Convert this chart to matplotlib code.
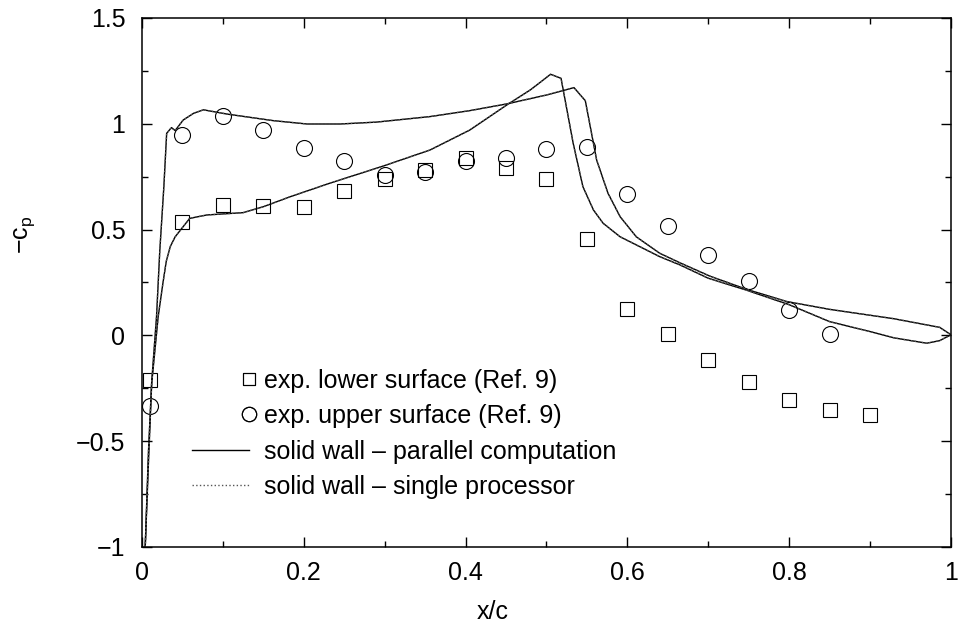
import numpy as np
import matplotlib
matplotlib.use('Agg')
import matplotlib.pyplot as plt
from matplotlib.ticker import MultipleLocator, FuncFormatter
from matplotlib.legend_handler import HandlerLine2D

plt.rcParams['font.family'] = ['Liberation Sans', 'DejaVu Sans']
plt.rcParams['mathtext.fontset'] = 'custom'
plt.rcParams['mathtext.rm'] = 'Liberation Sans'
plt.rcParams['mathtext.it'] = 'Liberation Sans'

# experimental data (Ref. 9)
x_lower = [0.01, 0.05, 0.1, 0.15, 0.2, 0.25, 0.3, 0.35, 0.4, 0.45, 0.5, 0.55,
           0.6, 0.65, 0.7, 0.75, 0.8, 0.85, 0.9]
cp_lower = [-0.211, 0.536, 0.616, 0.612, 0.608, 0.681, 0.739, 0.78, 0.837, 0.793,
            0.739, 0.457, 0.123, 0.007, -0.116, -0.22, -0.305, -0.355, -0.375]
x_upper = [0.01, 0.05, 0.1, 0.15, 0.2, 0.25, 0.3, 0.35, 0.4, 0.45, 0.5, 0.55,
           0.6, 0.65, 0.7, 0.75, 0.8, 0.85]
cp_upper = [-0.332, 0.947, 1.035, 0.969, 0.884, 0.823, 0.76, 0.774, 0.823, 0.84,
            0.882, 0.892, 0.667, 0.517, 0.38, 0.257, 0.119, 0.007]

# computed curve with shock near x/c = 0.55
xa = [0.004, 0.008, 0.012, 0.018, 0.022, 0.027, 0.0305, 0.0365, 0.041, 0.051, 0.064,
      0.076, 0.105, 0.162, 0.204, 0.245, 0.29, 0.356, 0.405, 0.451, 0.5, 0.534, 0.548,
      0.562, 0.576, 0.591, 0.611, 0.64, 0.665, 0.702, 0.747, 0.797, 0.85, 0.929, 0.986, 1.0]
ya = [-1.0, -0.55, -0.22, 0.09, 0.40, 0.70, 0.955, 0.982, 0.968, 1.018, 1.05,
      1.066, 1.046, 1.015, 0.999, 0.999, 1.008, 1.034, 1.062, 1.094, 1.136, 1.171, 1.109,
      0.829, 0.672, 0.561, 0.466, 0.388, 0.343, 0.28, 0.218, 0.16, 0.123, 0.079, 0.038, 0.003]

# computed curve with shock near x/c = 0.51
xb = [0.004, 0.008, 0.012, 0.02, 0.026, 0.030, 0.035, 0.041, 0.059, 0.08,
      0.1, 0.125, 0.15, 0.183, 0.232, 0.298, 0.356, 0.405, 0.451, 0.48, 0.496,
      0.505, 0.518, 0.533, 0.545, 0.558, 0.570, 0.591, 0.64, 0.665, 0.70, 0.747,
      0.80, 0.85, 0.90, 0.93, 0.97, 0.986, 1.0]
yb = [-1.0, -0.6, -0.227, 0.088, 0.25, 0.35, 0.42, 0.466, 0.553, 0.569,
      0.574, 0.58, 0.608, 0.655, 0.719, 0.80, 0.876, 0.97, 1.089, 1.16, 1.207,
      1.234, 1.215, 0.908, 0.703, 0.593, 0.530, 0.466, 0.372, 0.333, 0.27, 0.214,
      0.145, 0.065, 0.018, -0.012, -0.037, -0.025, 0.003]


class RightMarker(HandlerLine2D):
    # put the legend symbol at the right end of the handle, like xmgrace
    def get_xdata(self, legend, xdescent, ydescent, width, height, fontsize):
        xm = np.array([-xdescent + width, -xdescent + width])
        return xm, xm


fig = plt.figure(figsize=(9.6, 6.29), dpi=100)
ax = fig.add_axes([0.1479, 0.1304, 0.8427, 0.8410])

sq, = ax.plot(x_lower, cp_lower, 's', ms=9.4, mfc='none', mec='black', mew=0.8,
              label='exp. lower surface (Ref. 9)')
ci, = ax.plot(x_upper, cp_upper, 'o', ms=11.5, mfc='none', mec='black', mew=0.8,
              label='exp. upper surface (Ref. 9)')
l1, = ax.plot(xa, ya, '-', color='black', lw=1.0,
              label='solid wall \u2013 parallel computation')
ax.plot(xb, yb, '-', color='black', lw=1.0)
l2, = ax.plot(xa, ya, ':', color='#555555', lw=1.0,
              label='solid wall \u2013 single processor')
ax.plot(xb, yb, ':', color='#555555', lw=1.0)

ax.set_xlim(0, 1)
ax.set_ylim(-1, 1.5)
ax.xaxis.set_major_locator(MultipleLocator(0.2))
ax.xaxis.set_minor_locator(MultipleLocator(0.1))
ax.yaxis.set_major_locator(MultipleLocator(0.5))
ax.yaxis.set_minor_locator(MultipleLocator(0.25))
fmt = FuncFormatter(lambda v, p: ('%g' % round(v, 3)).replace('-', '\u2212'))
ax.xaxis.set_major_formatter(fmt)
ax.yaxis.set_major_formatter(fmt)
ax.tick_params(which='both', direction='in', top=True, right=True, labelsize=18, width=1.0)
ax.tick_params(which='major', length=7.5)
ax.tick_params(which='minor', length=4.5)
ax.tick_params(axis='x', pad=10)
ax.tick_params(axis='y', pad=12)
for s in ax.spines.values():
    s.set_linewidth(1.1)

ax.text(0.434, -0.122, 'x/c', transform=ax.transAxes, ha='center', va='center', fontsize=18)
ax.text(-0.145, 0.59, '\u2212c$_{\\mathregular{p}}$', transform=ax.transAxes, rotation=90,
        ha='center', va='center', fontsize=18)

leg = ax.legend(handles=[sq, ci, l1, l2], loc='upper left', bbox_to_anchor=(0.0618, 0.337),
                frameon=False, fontsize=18, handlelength=2.3, handletextpad=0.6,
                labelspacing=0.46, borderpad=0, borderaxespad=0, markerscale=0.9,
                handler_map={sq: RightMarker(numpoints=2), ci: RightMarker(numpoints=2)})

fig.savefig('out.png', dpi=100)
